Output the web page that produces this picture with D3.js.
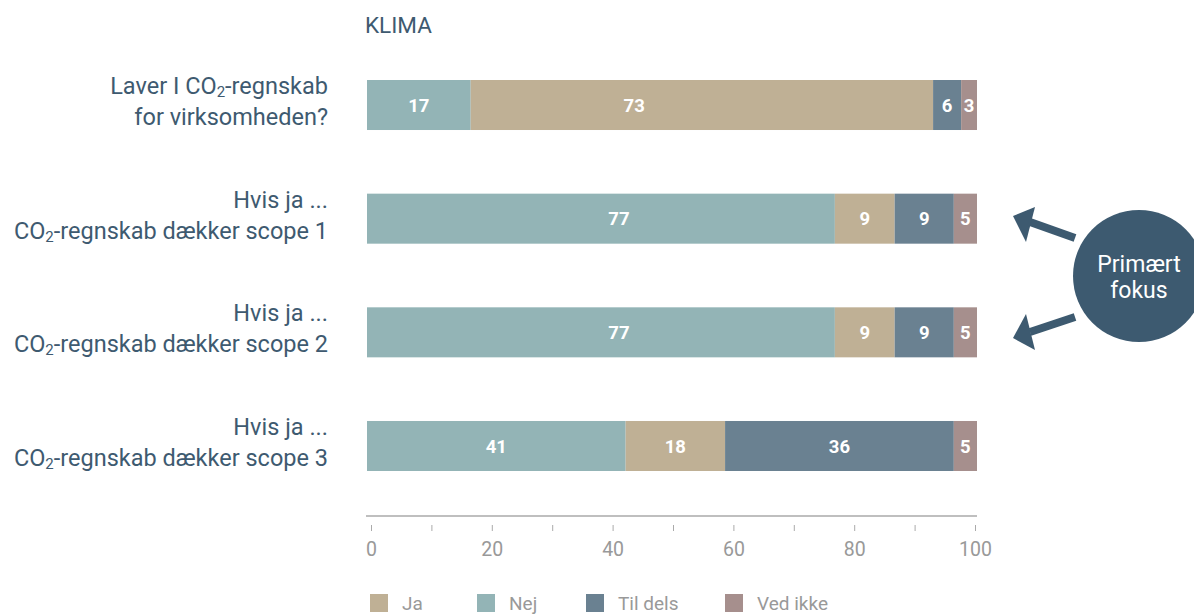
<!DOCTYPE html>
<html>
<head>
<meta charset="utf-8">
<script src="https://cdn.jsdelivr.net/npm/d3@7"></script>
<style>
  body { margin: 0; background: #fff; }
  svg text { font-family: Roboto, "Noto Sans", sans-serif; }
</style>
</head>
<body>
<svg id="chart"></svg>
<script>
// data
var questions = ['q1', 'q2', 'q3', 'q4'];
var questionLines = [
  ['Laver I CO|2|-regnskab', 'for virksomheden?'],
  ['Hvis ja ...', 'CO|2|-regnskab dækker scope 1'],
  ['Hvis ja ...', 'CO|2|-regnskab dækker scope 2'],
  ['Hvis ja ...', 'CO|2|-regnskab dækker scope 3']
];
// stack order in the bars
var series = ['Nej', 'Ja', 'Til dels', 'Ved ikke'];
var legendOrder = ['Ja', 'Nej', 'Til dels', 'Ved ikke'];
var colors = { 'Ja': '#bfb095', 'Nej': '#93b4b6', 'Til dels': '#6a8191', 'Ved ikke': '#a68f8d' };

// segment widths
var nejVals    = [17.0, 76.7, 76.7, 42.4];
var jaVals     = [75.8, 9.8, 9.8, 16.3];
var tilDelsVals = [4.6, 9.7, 9.7, 37.5];
var vedIkkeVals = [2.6, 3.8, 3.8, 3.8];
// printed labels
var nejLabels    = ['17', '77', '77', '41'];
var jaLabels     = ['73', '9', '9', '18'];
var tilDelsLabels = ['6', '9', '9', '36'];
var vedIkkeLabels = ['3', '5', '5', '5'];
var xTicks = [0, 10, 20, 30, 40, 50, 60, 70, 80, 90, 100];
var xTickLabels = [0, 20, 40, 60, 80, 100];

var W = 1194, H = 614;
var svg = d3.select('#chart').attr('width', W).attr('height', H);

var navy = '#3e5a70';

// a few labels in the original sit off the segment centre (value on the x scale)
var labelAt = { 'q1|Ja': 43.8, 'q2|Nej': 41.3, 'q3|Nej': 41.3 };

var rows = questions.map(function(q, i) {
  return { q: q, 'Nej': nejVals[i], 'Ja': jaVals[i], 'Til dels': tilDelsVals[i], 'Ved ikke': vedIkkeVals[i],
    labels: { 'Nej': nejLabels[i], 'Ja': jaLabels[i], 'Til dels': tilDelsLabels[i], 'Ved ikke': vedIkkeLabels[i] } };
});

var x = d3.scaleLinear().domain([0, 100]).range([367, 977]);
var xAxisScale = d3.scaleLinear().domain([0, 100]).range([371, 975]);
var y = d3.scaleBand().domain(questions).range([80, 471]).paddingInner(0.56).paddingOuter(0);

// title
svg.append('text')
  .attr('x', 365).attr('y', 33)
  .attr('fill', navy).style('font-size', '22.5px')
  .text('KLIMA');

var stack = d3.stack().keys(series)(rows);

var layer = svg.selectAll('g.layer')
  .data(stack)
  .enter().append('g')
  .attr('class', 'layer')
  .attr('fill', function(d) { return colors[d.key]; });

layer.selectAll('rect')
  .data(function(d) { return d.map(function(p) { p.key = d.key; return p; }); })
  .enter().append('rect')
  .attr('x', function(d) { return x(d[0]); })
  .attr('y', function(d) { return y(d.data.q); })
  .attr('width', function(d) { return x(d[1]) - x(d[0]); })
  .attr('height', y.bandwidth());

layer.selectAll('text')
  .data(function(d) { return d; })
  .enter().append('text')
  .attr('x', function(d) {
    var k = d.data.q + '|' + d.key;
    return k in labelAt ? x(labelAt[k]) : (x(d[0]) + x(d[1])) / 2;
  })
  .attr('y', function(d) { return y(d.data.q) + y.bandwidth() / 2; })
  .attr('dy', '0.36em')
  .attr('text-anchor', 'middle')
  .attr('fill', '#fff')
  .style('font-size', '18.5px')
  .style('font-weight', '700')
  .text(function(d) { return d.data.labels[d.key]; });

// question labels, "|2|" marks a subscript
var qg = svg.selectAll('g.qlabel')
  .data(questions)
  .enter().append('g')
  .attr('class', 'qlabel');

qg.each(function(q, i) {
  var g = d3.select(this);
  var cy = y(q) + y.bandwidth() / 2;
  questionLines[i].forEach(function(line, j) {
    var t = g.append('text')
      .attr('x', 328)
      .attr('y', cy - 11 + j * 31)
      .attr('text-anchor', 'end')
      .attr('fill', navy)
      .style('font-size', '23.5px');
    line.split('|').forEach(function(part, k) {
      if (k === 1) {
        t.append('tspan').attr('dy', '0.2em').style('font-size', '15px').text(part);
      } else if (k === 2) {
        t.append('tspan').attr('dy', '-0.13em').text(part);
      } else {
        t.append('tspan').text(part);
      }
    });
  });
});

// axis
var axisG = svg.append('g').attr('transform', 'translate(0,516)');
axisG.append('line')
  .attr('x1', x(0) - 1).attr('x2', x(100))
  .attr('stroke', '#aaa').attr('stroke-width', 1.5);

var axis = d3.axisBottom(xAxisScale)
  .tickValues(xTicks)
  .tickSize(6)
  .tickFormat(function(d) { return xTickLabels.indexOf(d) >= 0 ? d : ''; });

var ag = svg.append('g').attr('transform', 'translate(0,525)').call(axis);
ag.select('.domain').remove();
ag.selectAll('.tick line').attr('stroke', '#aaa');
ag.selectAll('.tick text')
  .attr('fill', '#999')
  .attr('y', 17)
  .style('font-size', '19.5px')
  .style('font-family', 'Roboto, sans-serif');

// legend
var legendX = [370, 477, 586, 725];
var lg = svg.selectAll('g.legend')
  .data(legendOrder)
  .enter().append('g')
  .attr('class', 'legend')
  .attr('transform', function(d, i) { return 'translate(' + legendX[i] + ',594)'; });
lg.append('rect')
  .attr('width', 18).attr('height', 18)
  .attr('fill', function(d) { return colors[d]; });
lg.append('text')
  .attr('x', 32).attr('y', 16)
  .attr('fill', '#999')
  .style('font-size', '19px')
  .text(function(d) { return d; });

// "Primært fokus" annotation
var ann = svg.append('g');
ann.append('circle')
  .attr('cx', 1139).attr('cy', 276).attr('r', 66)
  .attr('fill', '#3d5a70');
ann.append('text')
  .attr('x', 1139).attr('y', 272)
  .attr('text-anchor', 'middle').attr('fill', '#fff')
  .style('font-size', '23px').text('Primært');
ann.append('text')
  .attr('x', 1139).attr('y', 298)
  .attr('text-anchor', 'middle').attr('fill', '#fff')
  .style('font-size', '23px').text('fokus');

var arrows = [
  { x1: 1075, y1: 238, x2: 1030, y2: 222, tip: [1013, 216], b1: [1035, 207], b2: [1026, 242] },
  { x1: 1075, y1: 317, x2: 1030, y2: 332, tip: [1013, 338], b1: [1026, 314], b2: [1035, 350] }
];
arrows.forEach(function(a) {
  ann.append('line')
    .attr('x1', a.x1).attr('y1', a.y1).attr('x2', a.x2).attr('y2', a.y2)
    .attr('stroke', '#3d5a70').attr('stroke-width', 8);
  ann.append('polygon')
    .attr('points', [a.tip, a.b1, a.b2].map(function(p) { return p.join(','); }).join(' '))
    .attr('fill', '#3d5a70');
});
</script>
</body>
</html>
